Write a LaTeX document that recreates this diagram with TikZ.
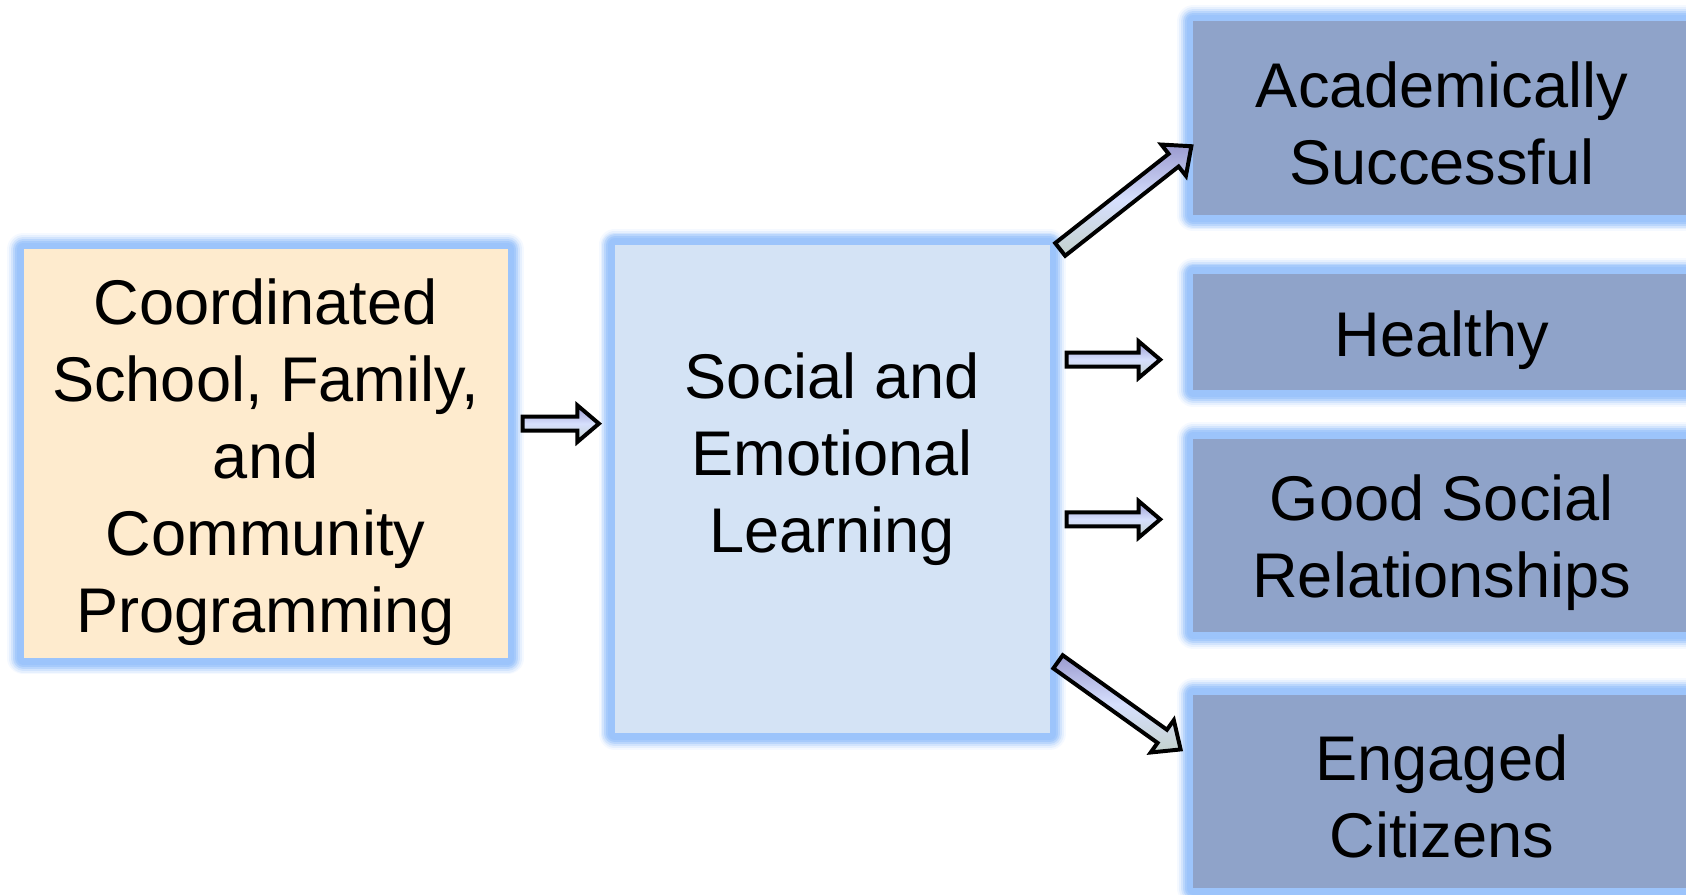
\documentclass[tikz,border=0pt]{standalone}
\usepackage{fontspec}
\setmainfont{Liberation Sans}
\usetikzlibrary{calc}
\definecolor{glowc}{HTML}{9CC4FB}
\definecolor{orangefill}{HTML}{FEEBCE}
\definecolor{centerfill}{HTML}{D4E3F5}
\definecolor{outfill}{HTML}{8FA3C9}
\definecolor{arrtop}{HTML}{9A9ACF}
\definecolor{arrmid}{HTML}{D6DFFD}
\definecolor{arrbot}{HTML}{C4D2CC}
\tikzset{
  glowbox/.style={rectangle, inner sep=0pt, line join=round,
    preaction={draw=glowc!10, line width=8.6pt},
    preaction={draw=glowc!25, line width=7.6pt},
    preaction={draw=glowc!45, line width=6.6pt},
    preaction={draw=glowc!70, line width=5.6pt},
    preaction={draw=glowc!90, line width=4.6pt},
    preaction={draw=glowc, line width=3.6pt}},
  lbl/.style={align=center, font=\fontsize{16.7}{20.4}\selectfont, inner sep=0pt},
  blockarr/.style={draw=black, line width=1.05pt, line join=miter,
    top color=arrtop, bottom color=arrbot, middle color=arrmid}
}
\newcommand\blockarrow[5]{%
  \coordinate (hb) at ($(#2)!#5!(#1)$);
  \path[blockarr] ($(#1)!#3!90:(#2)$) -- ($(hb)!#3!90:(#2)$) -- ($(hb)!#4!90:(#2)$)
    -- (#2) -- ($(hb)!#4!-90:(#2)$) -- ($(hb)!#3!-90:(#2)$) -- ($(#1)!#3!-90:(#2)$) -- cycle;}
\begin{document}
\begin{tikzpicture}[x=0.01cm, y=-0.01cm]
\useasboundingbox (0,0) rectangle (1568,831.5);
\fill[white] (0,0) rectangle (1568,831.5);
% boxes
\node[glowbox, fill=orangefill, minimum width=4.5cm, minimum height=3.8cm] (csf) at (247,422) {};
\node[lbl] (csftext) at ($(csf)+(0,8)$) {Coordinated\\School, Family,\\and\\Community\\Programming};
\node[glowbox, fill=centerfill, minimum width=4.04cm, minimum height=4.54cm] (sel) at (774,455) {};
\node[lbl] (seltext) at (774,427) {Social and\\Emotional\\Learning};
\node[glowbox, fill=outfill, minimum width=4.62cm, minimum height=1.8cm] (acad) at (1341,110) {};
\node[lbl] (acadtext) at ($(acad)+(0,5)$) {Academically\\Successful};
\node[glowbox, fill=outfill, minimum width=4.62cm, minimum height=1.08cm] (health) at (1341,309) {};
\node[lbl] (healthtext) at ($(health)+(0,7)$) {Healthy};
\node[glowbox, fill=outfill, minimum width=4.62cm, minimum height=1.8cm] (good) at (1341,498) {};
\node[lbl] (goodtext) at ($(good)+(0,7)$) {Good Social\\Relationships};
\node[glowbox, fill=outfill, minimum width=4.62cm, minimum height=1.8cm] (engaged) at (1341,736) {};
\node[lbl] (engagedtext) at ($(engaged)+(0,5)$) {Engaged\\Citizens};
% arrow end points
\coordinate (a0s) at (486,394);   \coordinate (a0e) at (557,394);
\coordinate (a1s) at (986,232);   \coordinate (a1e) at (1108,136);
\coordinate (a2s) at (992,334.5); \coordinate (a2e) at (1079,334.5);
\coordinate (a3s) at (992,483);   \coordinate (a3e) at (1079,483);
\coordinate (a4s) at (984,615.5); \coordinate (a4e) at (1098,697);
\blockarrow{a0s}{a0e}{0.065cm}{0.17cm}{0.2cm}
\blockarrow{a1s}{a1e}{0.075cm}{0.185cm}{0.21cm}
\blockarrow{a2s}{a2e}{0.065cm}{0.17cm}{0.2cm}
\blockarrow{a3s}{a3e}{0.065cm}{0.17cm}{0.2cm}
\blockarrow{a4s}{a4e}{0.075cm}{0.185cm}{0.21cm}
\end{tikzpicture}
\end{document}
